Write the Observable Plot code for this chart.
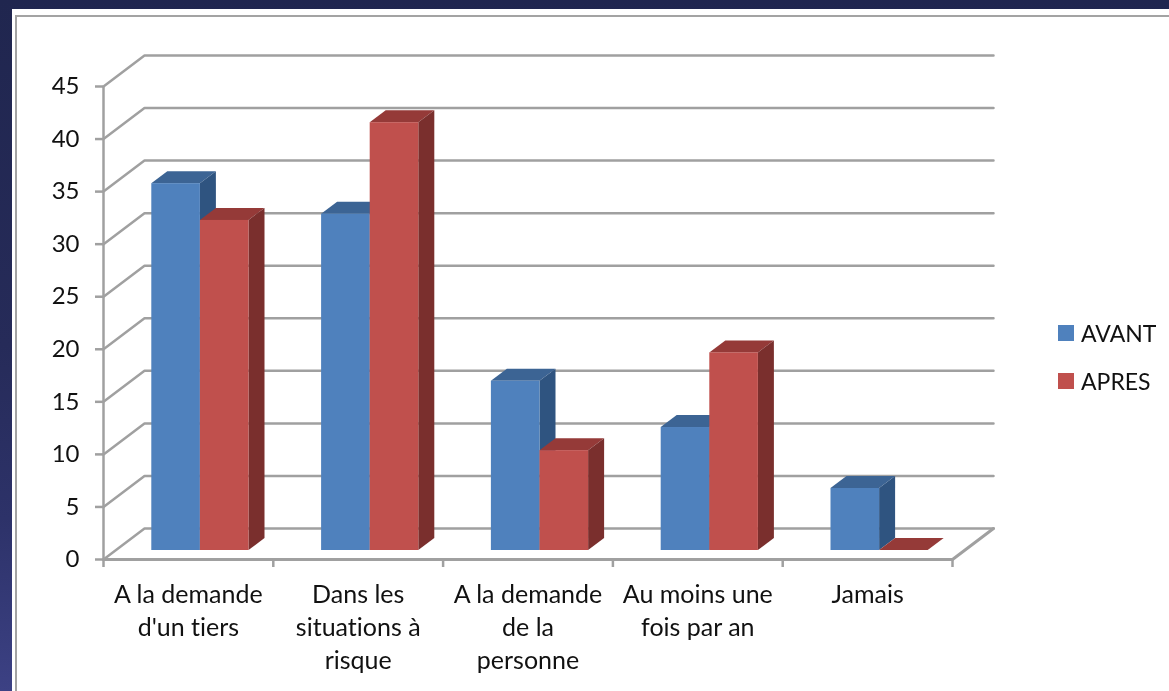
<!DOCTYPE html>
<html lang="fr">
<head>
<meta charset="utf-8">
<script src="https://cdn.jsdelivr.net/npm/d3@7"></script>
<script src="https://cdn.jsdelivr.net/npm/@observablehq/plot@0.6"></script>
<style>
  html, body { margin: 0; padding: 0; }
  body { width: 1169px; height: 691px; overflow: hidden; position: relative;
         background: linear-gradient(180deg, #20264f 0%, #262b59 50%, #2d3269 75%, #3c4184 100%); font-family: Lato, sans-serif; }
  #panel { position: absolute; left: 12px; top: 9px; right: 0; bottom: 0; background: #fff; }
  #frame { position: absolute; left: 15px; top: 15px; right: 0; bottom: 0; border-left: 2.5px solid #a3a3a3; border-top: 2.5px solid #a3a3a3; filter: blur(0.4px); }
  #chart { position: absolute; left: 0; top: 0; }
  #chart svg { background: transparent; filter: blur(0.5px); }
  #chart svg text { font-variant-ligatures: none; }
  #legend { position: absolute; left: 1058px; top: 309px; font: 23px Lato, sans-serif; color: #111; filter: blur(0.5px); font-variant-ligatures: none; }
  #legend div { display: flex; align-items: center; height: 48px; }
  #legend i { display: inline-block; width: 16px; height: 16px; margin-right: 7px; }
</style>
</head>
<body>
<div id="panel"></div>
<div id="frame"></div>
<div id="chart"></div>
<div id="legend"></div>
<script>
const categories = ["A la demande\nd'un tiers", "Dans les\nsituations à\nrisque", "A la demande\nde la\npersonne", "Au moins une\nfois par an", "Jamais"];
const seriesNames = ["AVANT", "APRES"];
const avant = [34.9, 32, 16.1, 11.7, 5.9];
const apres = [31.4, 40.7, 9.5, 18.8, 0];
const yTicks = [0, 5, 10, 15, 20, 25, 30, 35, 40, 45];
const xTicks = [0, 1, 2, 3, 4, 5];
const frontColors = ["#4f81bd", "#c0504d"];
const topColors = ["#3c6494", "#953a38"];
const sideColors = ["#2f5480", "#7a2f2d"];
const gridColor = "#a0a0a0";

// oblique projection, expressed in data units per unit of depth
const W = 1169, H = 691, left = 103, right = 952, top0 = 86, bottom0 = 559;
const ux = (right - left) / 5, uy = (bottom0 - top0) / 45;
const ox = px => px / ux, oy = px => px / uy;
const wallX = ox(41), wallY = oy(31);          // back wall offset
const frontX = ox(12), frontY = oy(9);         // bar front plane offset
const backX = ox(28), backY = oy(21);          // bar back plane offset
const barW = ox(48.6);

function faces(values, s) {
  const front = [], top = [], side = [];
  values.forEach((v, i) => {
    const l = i + 0.5 + frontX + (s - 1) * barW, r = l + barW;
    const dX = backX - frontX, dY = backY - frontY;
    front.push({x1: l, x2: r, y1: frontY, y2: v + frontY});
    top.push({z: i, x1: l, y1: v + frontY, x2: r, y2: v + frontY});
    top.push({z: i, x1: l + dX, y1: v + frontY + dY, x2: r + dX, y2: v + frontY + dY});
    side.push({z: i, x1: r, y1: frontY, x2: r, y2: v + frontY});
    side.push({z: i, x1: r + dX, y1: frontY + dY, x2: r + dX, y2: v + frontY + dY});
  });
  return {front, top, side};
}

const grid = yTicks.flatMap(v => [
  {z: v, x: 0, y: v}, {z: v, x: wallX, y: v + wallY}, {z: v, x: 5 + wallX, y: v + wallY}
]);
const floorFront = [{x: 0, y: 0}, {x: 5, y: 0}, {x: 5 + wallX, y: wallY}];
const labels = categories.map((t, i) => ({x: i + 0.5, text: t}));

const barMarks = [avant, apres].flatMap((vals, s) => {
  const f = faces(vals, s);
  const opts = {x1: "x1", y1: "y1", x2: "x2", y2: "y2", z: "z"};
  return [
    Plot.area(f.top, {...opts, fill: topColors[s]}),
    Plot.area(f.side, {...opts, fill: sideColors[s]}),
    Plot.rect(f.front, {x1: "x1", x2: "x2", y1: "y1", y2: "y2", fill: frontColors[s]})
  ];
});

const chart = Plot.plot({
  width: W, height: H,
  marginLeft: left, marginRight: W - right, marginTop: top0, marginBottom: H - bottom0,
  x: {domain: [0, 5], range: [left, right]},
  y: {domain: [0, 45], range: [bottom0, top0]},
  style: {background: "transparent", fontFamily: "Lato, sans-serif", overflow: "visible"},
  marks: [
    Plot.line(grid, {x: "x", y: "y", z: "z", stroke: gridColor, strokeWidth: 2.5, strokeLinejoin: "round"}),
    Plot.line(floorFront, {x: "x", y: "y", stroke: gridColor, strokeWidth: 3}),
    Plot.ruleX([0], {y1: 0, y2: 45, stroke: gridColor, strokeWidth: 2.5}),
    ...barMarks,
    Plot.axisY({ticks: yTicks, tickSize: 8, tickPadding: 16, stroke: gridColor, strokeWidth: 2.5, fill: "#111", fontSize: 24, label: null, tickFormat: d => d}),
    Plot.axisX({ticks: xTicks, tickSize: 8, stroke: gridColor, strokeWidth: 2.5, label: null, tickFormat: () => ""}),
    Plot.text(labels, {x: "x", y: 0, text: "text", dy: 20, lineAnchor: "top", lineHeight: 1.32, fontSize: 25, fill: "#111"})
  ]
});
document.getElementById("chart").append(chart);

const legend = document.getElementById("legend");
seriesNames.forEach((name, i) => {
  const row = document.createElement("div");
  const sw = document.createElement("i");
  sw.style.background = frontColors[i];
  row.append(sw, document.createTextNode(name));
  legend.append(row);
});
</script>
</body>
</html>
